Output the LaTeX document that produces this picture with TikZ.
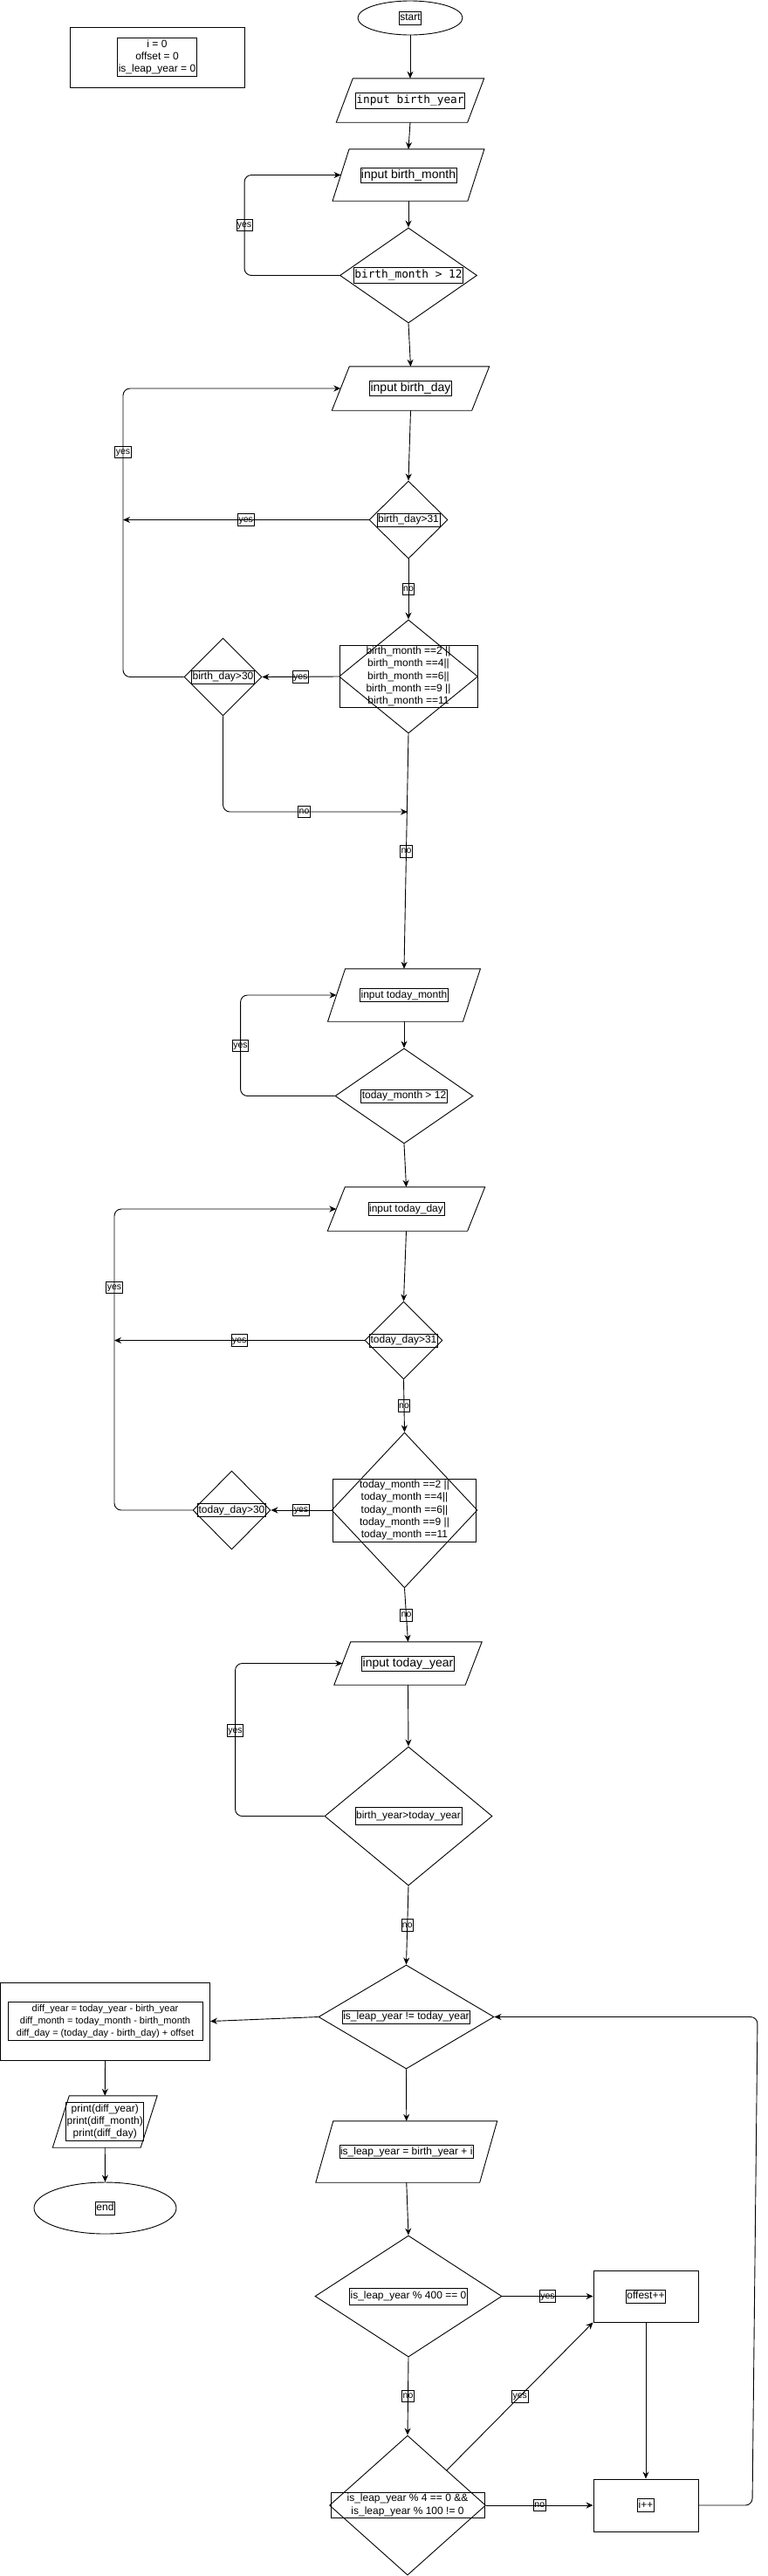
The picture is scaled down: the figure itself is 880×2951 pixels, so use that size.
\documentclass[tikz,border=0pt]{standalone}
\usepackage{fontspec}
\setmainfont{Liberation Sans}
\setmonofont{DejaVu Sans Mono}
\usetikzlibrary{arrows.meta,positioning,shapes.geometric}
\newcommand{\fsz}[2]{\fontsize{#1}{#2}\selectfont}
\tikzset{
  shp/.style={draw,line width=0.9pt,inner sep=0pt},
  dec/.style={shp,diamond},
  term/.style={shp,ellipse},
  proc/.style={shp,rectangle},
  io/.style={rectangle,inner sep=0pt},
  tbox/.style={draw,line width=0.7pt,inner xsep=1pt,inner ysep=1.5pt,
               align=center,font=\fsz{12}{14.3}},
  tline/.style={tbox,text height=9pt,text depth=3pt},
  tbig/.style={tbox,font=\fsz{14}{16},text height=10.5pt,text depth=3.5pt},
  tmono/.style={tbox,font=\ttfamily\fsz{12.8}{15},inner ysep=2pt,
                text height=10pt,text depth=4pt},
  lab/.style={draw,sharp corners,line width=0.7pt,inner xsep=1pt,inner ysep=1.5pt,
              font=\fsz{10.5}{12},text height=8pt,text depth=2.5pt},
  flow/.style={-{Stealth[length=8pt,width=7pt]},line width=0.9pt},
  ret/.style={flow,rounded corners=8pt},
}
\begin{document}
\begin{tikzpicture}[x=1pt,y=-1pt]
  \useasboundingbox (0,0) rectangle (880,2951);

  % variables
  \node[proc,minimum width=200,minimum height=69] (init) at (180,65.5) {};
  \node[tbox,minimum width=89,minimum height=44] (initt) at (init)
    {i = 0\\offset = 0\\is\_leap\_year = 0};

  % birth date
  \node[term,minimum width=120,minimum height=39] (start) at (470,20.5) {};
  \node[tline] (startt) at (start) {start};
  \node[io,minimum width=150,minimum height=50] (byear) at (470,115) {};
  \node[tmono] (byeart) at (byear) {input birth\_year};
  \node[io,minimum width=154.5,minimum height=59] (bmonth) at (468,200.5) {};
  \node[tbig] (bmontht) at (bmonth) {input birth\_month};
  \node[dec,minimum width=157,minimum height=109] (bm12) at (468,315.5) {};
  \node[tmono] (bm12t) at (bm12) {birth\_month > 12};
  \node[io,minimum width=160,minimum height=50] (bday) at (470.5,445) {};
  \node[tbig] (bdayt) at (bday) {input birth\_day};
  \node[dec,minimum width=90,minimum height=89] (bd31) at (468,595.5) {};
  \node[tline] (bd31t) at (bd31) {birth\_day>31};
  \node[dec,minimum width=159,minimum height=130] (bmlist) at (468,775) {};
  \node[tbox,font=\fsz{12}{14.2},minimum width=158,minimum height=71] (bmlistt) at (bmlist)
    {birth\_month ==2 ||\\birth\_month ==4||\\birth\_month ==6||\\
     birth\_month ==9 ||\\birth\_month ==11};
  \node[dec,minimum width=89,minimum height=89] (bd30) at (255.5,775.5) {};
  \node[tline] (bd30t) at (bd30) {birth\_day>30};
  \coordinate (bjoin) at (467,930);
  \coordinate (bloop) at (141,445);

  % today's date
  \node[io,minimum width=154.5,minimum height=60] (tmonth) at (463,1140) {};
  \node[tline] (tmontht) at (tmonth) {input today\_month};
  \node[dec,minimum width=158,minimum height=109] (tm12) at (463,1255.5) {};
  \node[tline] (tm12t) at (tm12) {today\_month > 12};
  \node[io,minimum width=160,minimum height=50] (tday) at (465.5,1385) {};
  \node[tline] (tdayt) at (tday) {input today\_day};
  \node[dec,minimum width=89,minimum height=89] (td31) at (462.5,1535.5) {};
  \node[tline] (td31t) at (td31) {today\_day>31};
  \node[dec,minimum width=167,minimum height=178] (tmlist) at (463.5,1730) {};
  \node[tbox,font=\fsz{12}{14.2},minimum width=164,minimum height=72] (tmlistt) at (tmlist)
    {today\_month ==2 ||\\today\_month ==4||\\today\_month ==6||\\
     today\_month ==9 ||\\today\_month ==11};
  \node[dec,minimum width=89,minimum height=90] (td30) at (265.5,1730) {};
  \node[tline] (td30t) at (td30) {today\_day>30};
  \coordinate (tloop) at (131,1385);
  \node[io,minimum width=150,minimum height=49] (tyear) at (467.5,1905.5) {};
  \node[tbig] (tyeart) at (tyear) {input today\_year};
  \node[dec,minimum width=192,minimum height=159] (byty) at (468,2080.5) {};
  \node[tline,minimum height=20] (bytyt) at (byty) {birth\_year>today\_year};

  % leap years
  \node[dec,minimum width=201,minimum height=119] (leap) at (465.5,2310.5) {};
  \node[tline] (leapt) at (leap) {is\_leap\_year != today\_year};
  \node[proc,minimum width=240,minimum height=89] (diff) at (120.5,2315.5) {};
  \node[tbox,font=\fsz{11}{14.3},minimum width=223,minimum height=44] (difft) at (diff)
    {diff\_year = today\_year - birth\_year\\diff\_month = today\_month - birth\_month\\
     diff\_day = (today\_day - birth\_day) + offset};
  \node[io,minimum width=100.5,minimum height=59] (out) at (120.25,2430.5) {};
  \node[tbox,minimum width=89,minimum height=44] (outt) at (out)
    {print(diff\_year)\\print(diff\_month)\\print(diff\_day)};
  \node[term,minimum width=163,minimum height=59] (stop) at (120.5,2529.5) {};
  \node[tline] (stopt) at (stop) {end};
  \node[io,minimum width=187.5,minimum height=70] (assign) at (465.75,2465) {};
  \node[tline] (assignt) at (assign) {is\_leap\_year = birth\_year + i};
  \node[dec,minimum width=214,minimum height=139] (d400) at (468,2630.5) {};
  \node[tline,minimum height=19] (d400t) at (d400) {is\_leap\_year \% 400 == 0};
  \node[proc,minimum width=120,minimum height=59] (offs) at (740,2630.5) {};
  \node[tline] (offst) at (offs) {offest++};
  \node[dec,minimum width=179,minimum height=160] (d4) at (467,2870) {};
  \node[tbox,font=\fsz{12}{14.7},minimum width=176,minimum height=29] (d4t) at (d4)
    {is\_leap\_year \% 4 == 0 \&\&\\is\_leap\_year \% 100 != 0};
  \node[proc,minimum width=120,minimum height=60] (inc) at (740,2870) {};
  \node[tline] (inct) at (inc) {i++};

  % slanted input/output boxes
  \foreach \n/\s in {byear/19,bmonth/19,bday/20,tmonth/20,tday/20,tyear/19,out/19,assign/20}
    \draw[shp] ([xshift=\s/2]\n.north west) -- ([xshift=\s/2]\n.north east)
      -- ([xshift=-\s/2]\n.south east) -- ([xshift=-\s/2]\n.south west) -- cycle;

  % birth date flow
  \draw[flow] (start.south) -- (byear.north);
  \draw[flow] (byear.south) -- (bmonth.north);
  \draw[flow] (bmonth.south) -- (bm12.north);
  \draw[ret] (bm12.west) -- ++(-109,0) |- node[lab,pos=0.25] (lbm12) {yes} (bmonth.west);
  \draw[flow] (bm12.south) -- (bday.north);
  \draw[flow] (bday.south) -- (bd31.north);
  \draw[flow] (bd31.west) -- node[lab] (lbd31) {yes} (bd31.west -| bloop);
  \draw[flow] (bd31.south) -- node[lab] (lbd31n) {no} (bmlist.north);
  \draw[flow] (bmlist.west) -- node[lab] (lbml) {yes} (bd30.east);
  \draw[ret] (bd30.west) -| node[lab,pos=0.89] (lbd30) {yes} (bloop) -- (bday.west);
  \draw[ret] (bd30.south) |- node[lab,pos=0.72] (lbd30n) {no} (bjoin);
  \draw[flow] (bmlist.south) -- node[lab] (lbmln) {no} (tmonth.north);

  % today's date flow
  \draw[flow] (tmonth.south) -- (tm12.north);
  \draw[ret] (tm12.west) -- ++(-108,0) |- node[lab,pos=0.25] (ltm12) {yes} (tmonth.west);
  \draw[flow] (tm12.south) -- (tday.north);
  \draw[flow] (tday.south) -- (td31.north);
  \draw[flow] (td31.west) -- node[lab] (ltd31) {yes} (td31.west -| tloop);
  \draw[flow] (td31.south) -- node[lab] (ltd31n) {no} (tmlist.north);
  \draw[flow] (tmlist.west) -- node[lab] (ltml) {yes} (td30.east);
  \draw[ret] (td30.west) -| node[lab,pos=0.87] (ltd30) {yes} (tloop) -- (tday.west);
  \draw[flow] (tmlist.south) -- node[lab] (ltmln) {no} (tyear.north);
  \draw[flow] (tyear.south) -- (byty.north);
  \draw[ret] (byty.west) -- ++(-102,0) |- node[lab,pos=0.28] (lbyty) {yes} (tyear.west);
  \draw[flow] (byty.south) -- node[lab] (lbytyn) {no} (leap.north);

  % leap year loop
  \draw[flow] (leap.west) -- (diff.east);
  \draw[flow] (diff.south) -- (out.north);
  \draw[flow] (out.south) -- (stop.north);
  \draw[flow] (leap.south) -- (assign.north);
  \draw[flow] (assign.south) -- (d400.north);
  \draw[flow] (d400.east) -- node[lab] (ld400) {yes} (offs.west);
  \draw[flow] (d400.south) -- node[lab] (ld400n) {no} (d4.north);
  \draw[flow] (d4.north east) -- node[lab] (ld4) {yes} (offs.south west);
  \draw[flow] (d4.east) -- node[lab] (ld4n) {no} (inc.west);
  \draw[flow] (offs.south) -- (inc.north);
  \draw[ret] (inc.east) -- (862,2870) -- (868,2310.5) -- (leap.east);
\end{tikzpicture}
\end{document}
